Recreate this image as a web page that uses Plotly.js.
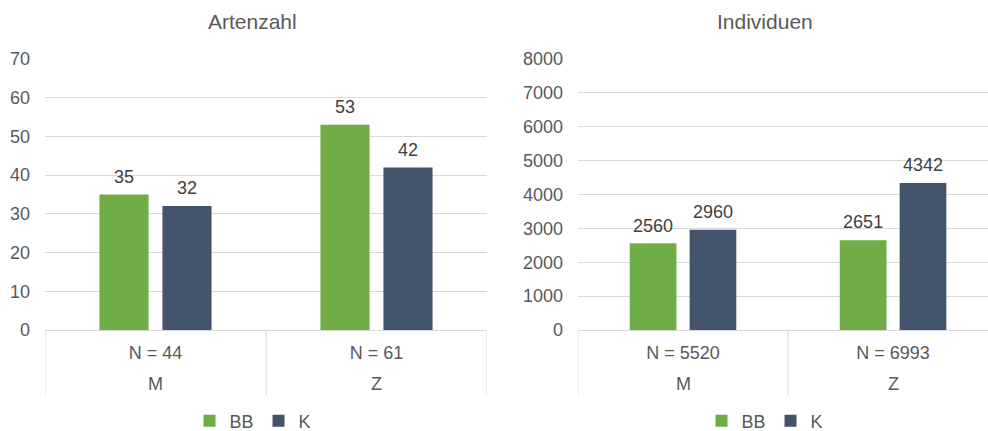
<!DOCTYPE html>
<html>
<head>
<meta charset="utf-8">
<script src="https://cdn.plot.ly/plotly-3.0.1.min.js"></script>
<style>
  html, body { margin: 0; padding: 0; background: #ffffff; overflow: hidden; }
  #chart { width: 988px; height: 431px; }
</style>
</head>
<body>
<div id="chart"></div>
<script>
// Groups and sample sizes
const groups = ['M', 'Z'];
const nArten = ['N = 44', 'N = 61'];
const nIndividuen = ['N = 5520', 'N = 6993'];

// Artenzahl (number of species)
const artenBB = [35, 53];
const artenK = [32, 42];

// Individuen (number of individuals)
const indBB = [2560, 2651];
const indK = [2960, 4342];

const seriesNames = ['BB', 'K'];
const colors = ['#70AD47', '#44546A'];

const W = 988, H = 431;
const textGrey = '#595959';
const labelGrey = '#404040';
const gridGrey = '#D9D9D9';
const FONT = 'Liberation Sans, Arial, sans-serif';
const GAP = 0.43;

function barTrace(name, color, xs, ys, xa, ya, legend) {
  return {
    type: 'bar',
    name: name,
    x: xs,
    y: ys,
    xaxis: xa,
    yaxis: ya,
    legend: legend,
    marker: { color: color, line: { width: 0 } },
    hoverinfo: 'skip'
  };
}

// value labels above each bar, grouped next to one another like the bars
function valueLabels(xs, ys, xa, ya) {
  return {
    type: 'scatter',
    mode: 'markers+text',
    orientation: 'v',
    x: xs,
    y: ys,
    xaxis: xa,
    yaxis: ya,
    text: ys.map(v => String(v)),
    textposition: 'top center',
    textfont: { family: FONT, size: 18, color: labelGrey },
    marker: { size: 10, opacity: 0 },
    cliponaxis: false,
    showlegend: false,
    hoverinfo: 'skip'
  };
}

const data = [
  barTrace(seriesNames[0], colors[0], nArten, artenBB, 'x', 'y', 'legend'),
  barTrace(seriesNames[1], colors[1], nArten, artenK, 'x', 'y', 'legend'),
  barTrace(seriesNames[0], colors[0], nIndividuen, indBB, 'x2', 'y2', 'legend2'),
  barTrace(seriesNames[1], colors[1], nIndividuen, indK, 'x2', 'y2', 'legend2'),
  valueLabels(nArten, artenBB, 'x', 'y'),
  valueLabels(nArten, artenK, 'x', 'y'),
  valueLabels(nIndividuen, indBB, 'x2', 'y2'),
  valueLabels(nIndividuen, indK, 'x2', 'y2')
];

const axisBottom = 1 - 330 / H;
const yDom = [axisBottom, 1 - 59 / H];

function xAxis(domain, anchor, range, cats) {
  return {
    type: 'category',
    categoryorder: 'array',
    categoryarray: cats,
    domain: domain,
    anchor: anchor,
    range: range,
    autorange: false,
    showline: true,
    linecolor: gridGrey,
    linewidth: 1,
    showgrid: false,
    zeroline: false,
    ticks: '',
    ticklabelstandoff: 6,
    tickfont: { family: FONT, size: 18, color: textGrey },
    fixedrange: true
  };
}

function yAxis(anchor, range, dtick) {
  return {
    domain: yDom,
    anchor: anchor,
    range: range,
    autorange: false,
    dtick: dtick,
    showgrid: true,
    gridcolor: gridGrey,
    gridwidth: 1,
    zeroline: false,
    showline: false,
    ticks: '',
    ticklabelstandoff: 14,
    tickfont: { family: FONT, size: 18, color: textGrey },
    fixedrange: true
  };
}

const legendCommon = {
  orientation: 'h',
  yanchor: 'middle',
  y: 1 - 421 / H,
  xanchor: 'center',
  font: { family: FONT, size: 18, color: textGrey },
  bgcolor: 'rgba(0,0,0,0)',
  itemwidth: 30,
  tracegroupgap: 0
};

// group names (second label row) and the vertical dividers between groups
const annotations = [];
const shapes = [];
[['x', nArten], ['x2', nIndividuen]].forEach(([xa, cats]) => {
  cats.forEach((c, i) => {
    annotations.push({
      text: groups[i], xref: xa, yref: 'paper',
      x: c, y: 1 - 384 / H, xanchor: 'center', yanchor: 'middle',
      showarrow: false, font: { family: FONT, size: 18, color: textGrey }
    });
  });
  for (let i = 0; i <= cats.length; i++) {
    shapes.push({
      type: 'line', xref: xa, yref: 'paper',
      x0: i - 0.5, x1: i - 0.5, y0: axisBottom, y1: 1 - 395 / H,
      line: { color: gridGrey, width: 1 }
    });
  }
});

annotations.push(
  {
    text: 'Artenzahl', xref: 'paper', yref: 'paper',
    x: 252 / W, y: 1 - 22 / H, xanchor: 'center', yanchor: 'middle',
    showarrow: false, font: { family: FONT, size: 21, color: textGrey }
  },
  {
    text: 'Individuen', xref: 'paper', yref: 'paper',
    x: 765 / W, y: 1 - 22 / H, xanchor: 'center', yanchor: 'middle',
    showarrow: false, font: { family: FONT, size: 21, color: textGrey }
  }
);

const layout = {
  width: W,
  height: H,
  margin: { l: 0, r: 0, t: 0, b: 0, pad: 0, autoexpand: false },
  paper_bgcolor: '#ffffff',
  plot_bgcolor: '#ffffff',
  font: { family: FONT, color: textGrey },
  barmode: 'group',
  bargap: GAP,
  bargroupgap: 0.22,
  scattermode: 'group',
  scattergap: GAP,
  showlegend: true,
  xaxis: xAxis([45 / W, 487 / W], 'y', [-0.5, 1.5], nArten),
  yaxis: yAxis('x', [0, 70], 10),
  xaxis2: xAxis([578 / W, 1], 'y2', [-0.5, 1.452], nIndividuen),
  yaxis2: yAxis('x2', [0, 8000], 1000),
  legend: Object.assign({}, legendCommon, { x: 253 / W }),
  legend2: Object.assign({}, legendCommon, { x: 765 / W }),
  annotations: annotations,
  shapes: shapes
};

Plotly.newPlot('chart', data, layout, { displayModeBar: false, staticPlot: true });
</script>
</body>
</html>
